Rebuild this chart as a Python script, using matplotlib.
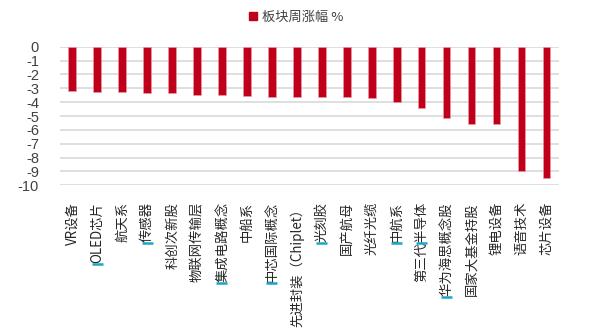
import numpy as np
import matplotlib.pyplot as plt
from matplotlib.lines import Line2D
from matplotlib.patches import Patch

plt.rcParams['font.family'] = ['Noto Sans CJK SC', 'DejaVu Sans']

sectors = ['VR设备', 'OLED芯片', '航天系', '传感器', '科创次新股', '物联网传输层',
           '集成电路概念', '中船系', '中芯国际概念', '先进封装（Chiplet）', '光刻胶',
           '国产航母', '光纤光缆', '中航系', '第三代半导体', '华为海思概念股',
           '国家大基金持股', '锂电设备', '语音技术', '芯片设备']
weekly_change = [-3.22, -3.27, -3.27, -3.37, -3.37, -3.49, -3.49, -3.56, -3.61, -3.61,
                 -3.66, -3.66, -3.73, -4.00, -4.41, -5.17, -5.54, -5.59, -8.98, -9.46]
y_ticks = list(range(0, -11, -1))
# labels that carry a cyan cursor mark, and where the mark sits (fraction from text start)
marked = {1: 0.0, 3: 0.0, 6: 0.0, 8: 0.0, 10: 0.0, 13: 0.0, 14: 0.5, 15: 0.0}

bar_color = '#C0001A'

fig = plt.figure(figsize=(5.92, 3.28), dpi=100)
ax = fig.add_axes([0.101, 0.435, 0.843, 0.4225])

x = np.arange(len(sectors))
ax.bar(x, weekly_change, width=0.31, color=bar_color, edgecolor='#E8A0A8', linewidth=0.4, zorder=3)

ax.set_xlim(-0.5, len(sectors) - 0.5)
ax.set_ylim(-10, 0)
ax.set_yticks(y_ticks)
ax.set_yticklabels([str(v) for v in y_ticks], family='Liberation Sans', fontsize=10.5, color='#404040')
ax.tick_params(axis='y', length=0, pad=15)
ax.yaxis.grid(True, color='#D9D9D9', linewidth=1.2, zorder=0)
ax.set_xticks(x)
ax.set_xticklabels(sectors, rotation=90, fontsize=9.6, color='#262626')
ax.tick_params(axis='x', length=0, pad=12)
for s in ax.spines.values():
    s.set_visible(False)

fig.legend(handles=[Patch(color=bar_color)], labels=['板块周涨幅 %'], loc='center',
           bbox_to_anchor=(0.5, 0.948), frameon=False, fontsize=9.5,
           handlelength=0.6, handleheight=0.6, handletextpad=0.4, labelcolor='#404040')

# cyan cursor marks beside some of the rotated labels
fig.canvas.draw()
renderer = fig.canvas.get_renderer()
labels = ax.get_xticklabels()
for i, frac in marked.items():
    bb = labels[i].get_window_extent(renderer)
    yb = bb.y0 + frac * bb.height
    fig.add_artist(Line2D([bb.x0 + 1.5, bb.x1 - 1.5], [yb - 1, yb - 1], transform=None,
                          color='#17A8C8', linewidth=1.8, solid_capstyle='butt'))

fig.savefig('out.png', dpi=100)
